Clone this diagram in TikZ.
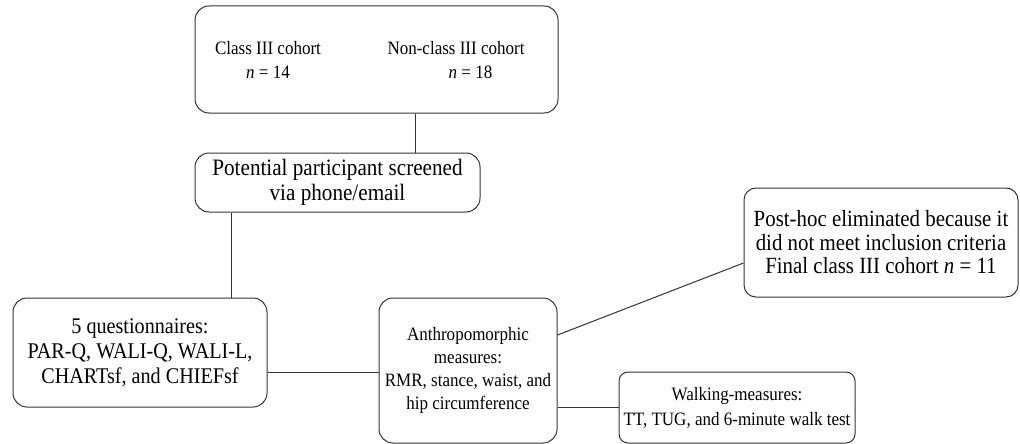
\documentclass[tikz,border=0pt]{standalone}
\usepackage{fontspec}
\setmainfont{Liberation Serif}[FakeStretch=0.9]
\usetikzlibrary{positioning,calc}

\begin{document}
\begin{tikzpicture}[
    x=1pt, y=-1pt,
    box/.style = {draw=black!80, line width=1pt, rounded corners=14pt,
                  align=center, inner sep=2pt, font=\fontsize{18.9}{23}\selectfont},
    big/.style = {font=\fontsize{23.5}{25}\selectfont},
    txt/.style = {align=center, font=\fontsize{18.9}{24}\selectfont},
    link/.style = {draw=black!80, line width=1pt}
    ]
    \useasboundingbox (0,0) rectangle (1020,444);
    \node[box, minimum width=363pt, minimum height=107pt] (cohorts) at (376.5,59.5) {};
    \node[txt] (class3) at (268,60) {Class III cohort\\\textit{n} = 14};
    \node[txt] (nonclass3) at (456,60) {Non-class III cohort\\\hspace*{29pt}\textit{n} = 18};
    \node[box, big, minimum width=285pt, minimum height=59pt] (screen) at (337.5,182.5)
        {Potential participant screened\\via phone/email};
    \node[box, font=\fontsize{22.4}{25}\selectfont, minimum width=254pt, minimum height=109pt] (quest) at (140,352.5)
        {5 questionnaires:\\PAR-Q, WALI-Q, WALI-L,\\CHARTsf, and CHIEFsf};
    \node[box, minimum width=178pt, minimum height=145pt] (anthro) at (468,370.5)
        {Anthropomorphic\\measures:\\RMR, stance, waist, and\\hip circumference};
    \node[box, font=\fontsize{23.2}{23.5}\selectfont, rounded corners=12pt, inner sep=0pt,
          minimum width=274pt, minimum height=109pt] (posthoc) at (881,242.5)
        {Post-hoc eliminated because it\\did not meet inclusion criteria\\Final class III cohort \textit{n} = 11};
    \node[box, font=\fontsize{18.9}{25}\selectfont, rounded corners=9pt,
          minimum width=236pt, minimum height=71pt] (walk) at (737,407.5)
        {Walking-measures:\\TT, TUG, and 6-minute walk test};
    % connectors
    \path[link] ([xshift=38.5pt]cohorts.south) edge ([xshift=38.5pt]cohorts.south |- screen.north);
    \path[link] ([xshift=37pt]screen.south west) edge ([xshift=37pt]screen.south west |- quest.north);
    \path[link] ([yshift=-19.5pt]quest.east) edge ([yshift=-19.5pt]quest.east -| anthro.west);
    \path[link] ([yshift=35.5pt]anthro.east) edge ([yshift=-20.5pt]posthoc.west);
    \path[link] (walk.west -| anthro.east) edge (walk.west);
\end{tikzpicture}
\end{document}
